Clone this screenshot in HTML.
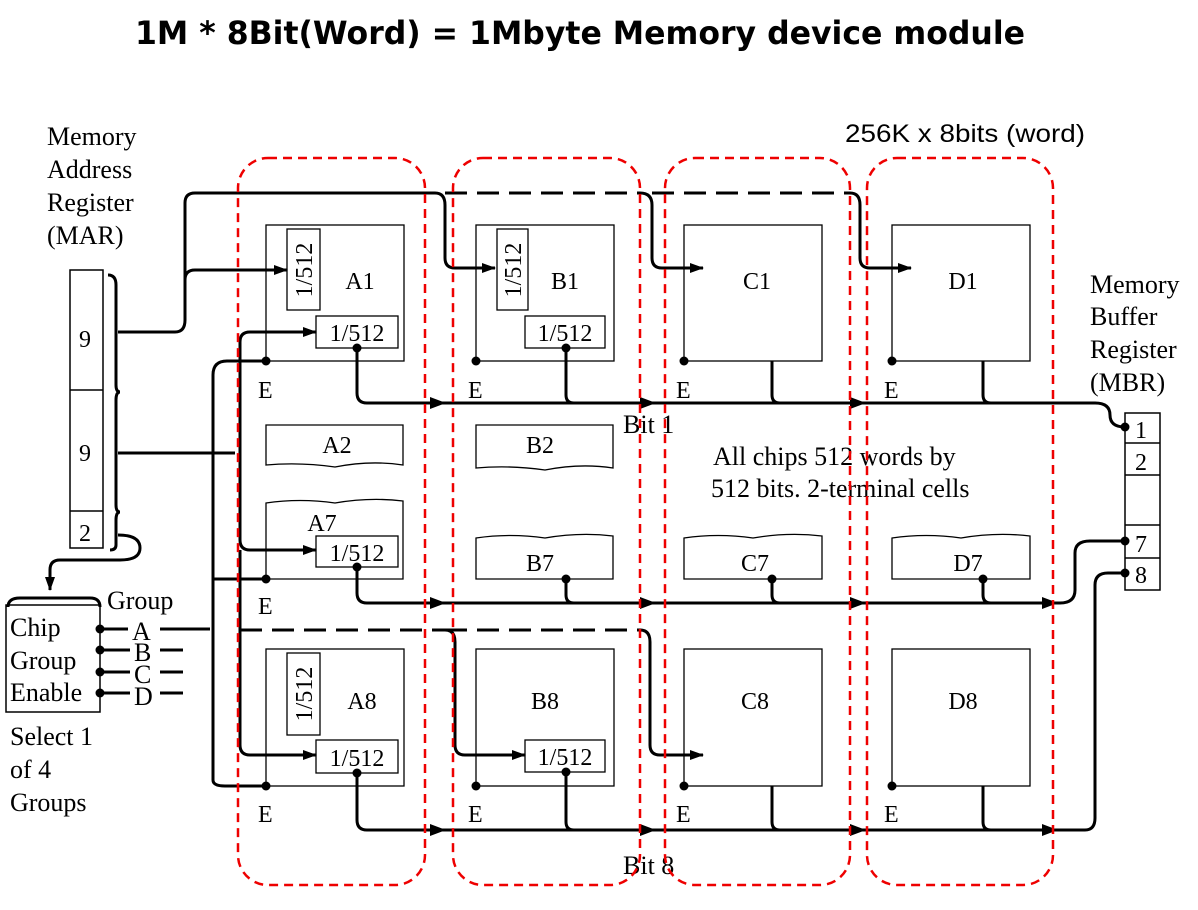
<!DOCTYPE html>
<html><head><meta charset="utf-8"><style>
body{margin:0;background:#fff}
svg{display:block}
.s{font-family:"Liberation Serif",serif;fill:#000}
</style></head><body>
<svg width="1198" height="910" viewBox="0 0 1198 910" xmlns="http://www.w3.org/2000/svg">
<defs>
<marker id="ar" markerWidth="14" markerHeight="10" refX="13" refY="5" orient="auto" markerUnits="userSpaceOnUse">
<path d="M0,0 L14,5 L0,10 Z" fill="#000"/></marker>
</defs>
<text x="135" y="44" textLength="890" lengthAdjust="spacingAndGlyphs" font-family="DejaVu Sans,Liberation Sans,sans-serif" font-weight="bold" font-size="32">1M * 8Bit(Word) = 1Mbyte Memory device module</text>
<text x="845" y="142" textLength="240" lengthAdjust="spacingAndGlyphs" font-family="Liberation Sans,sans-serif" font-size="25">256K x 8bits (word)</text>

<g class="s" font-size="26">
<text x="47" y="145">Memory</text><text x="47" y="178">Address</text><text x="47" y="211">Register</text><text x="47" y="244">(MAR)</text>
<text x="1090" y="293">Memory</text><text x="1090" y="325">Buffer</text><text x="1090" y="358">Register</text><text x="1090" y="391">(MBR)</text>
<text x="10" y="636">Chip</text><text x="10" y="669">Group</text><text x="10" y="701">Enable</text>
<text x="107" y="609">Group</text>
<text x="10" y="745">Select 1</text><text x="10" y="778">of 4</text><text x="10" y="811">Groups</text>
<text x="132" y="640">A</text><text x="134" y="661">B</text><text x="134" y="683">C</text><text x="134" y="705">D</text>
<text x="623" y="433">Bit 1</text><text x="623" y="874">Bit 8</text>
<text x="713" y="465">All chips 512 words by</text><text x="711" y="497">512 bits. 2-terminal cells</text>
</g>

<g fill="none" stroke="#000" stroke-width="1.5">
<rect x="70" y="270" width="33" height="278"/><line x1="70" y1="390" x2="103" y2="390"/><line x1="70" y1="511" x2="103" y2="511"/>
<rect x="6" y="605" width="94" height="107"/>
<rect x="1125" y="413" width="35" height="177"/>
<line x1="1125" y1="443" x2="1160" y2="443"/><line x1="1125" y1="475" x2="1160" y2="475"/><line x1="1125" y1="525" x2="1160" y2="525"/><line x1="1125" y1="558" x2="1160" y2="558"/>
</g>
<g class="s" font-size="24"><text x="79" y="347">9</text><text x="79" y="461">9</text><text x="79" y="541">2</text>
<text x="1135" y="438">1</text><text x="1135" y="470">2</text><text x="1135" y="552">7</text><text x="1135" y="583">8</text></g>

<g fill="none" stroke="#000" stroke-width="1.3">
<rect x="266" y="225" width="138" height="136"/><rect x="476" y="225" width="138" height="136"/>
<rect x="684" y="225" width="138" height="136"/><rect x="892" y="225" width="138" height="136"/>
<rect x="266" y="649" width="138" height="137"/><rect x="476" y="649" width="138" height="137"/>
<rect x="684" y="649" width="138" height="137"/><rect x="892" y="649" width="138" height="137"/>
<path d="M266,425 H403 V465 Q370,460 335,467 Q300,462 266,465 Z"/>
<path d="M476,425 H613 V468 Q580,463 545,470 Q510,465 476,468 Z"/>
<path d="M266,503 Q300,498 335,503 Q370,497 403,501 V579 H266 Z"/>
<path d="M476,538 Q510,533 545,538 Q580,532 613,536 V579 H476 Z"/>
<path d="M684,538 Q718,533 753,538 Q788,532 822,536 V579 H684 Z"/>
<path d="M892,538 Q926,533 961,538 Q996,532 1030,536 V579 H892 Z"/>
<rect x="287" y="229" width="33" height="81"/><rect x="497" y="229" width="31" height="81"/>
<rect x="287" y="653" width="33" height="82"/>
<rect x="316" y="316" width="82" height="32"/><rect x="525" y="316" width="80" height="32"/>
<rect x="316" y="536" width="82" height="31"/><rect x="316" y="740" width="82" height="33"/><rect x="525" y="740" width="80" height="32"/>
</g>
<g class="s" font-size="24">
<text x="360" y="289" text-anchor="middle">A1</text><text x="565" y="289" text-anchor="middle">B1</text><text x="757" y="289" text-anchor="middle">C1</text><text x="963" y="289" text-anchor="middle">D1</text>
<text x="337" y="453" text-anchor="middle">A2</text><text x="540" y="453" text-anchor="middle">B2</text>
<text x="322" y="531" text-anchor="middle">A7</text><text x="540" y="571" text-anchor="middle">B7</text><text x="755" y="571" text-anchor="middle">C7</text><text x="968" y="571" text-anchor="middle">D7</text>
<text x="362" y="709" text-anchor="middle">A8</text><text x="545" y="709" text-anchor="middle">B8</text><text x="755" y="709" text-anchor="middle">C8</text><text x="963" y="709" text-anchor="middle">D8</text>
<text x="357" y="341" text-anchor="middle">1/512</text><text x="565" y="341" text-anchor="middle">1/512</text>
<text x="357" y="561" text-anchor="middle">1/512</text><text x="357" y="766" text-anchor="middle">1/512</text><text x="565" y="765" text-anchor="middle">1/512</text>
<text transform="translate(312,270) rotate(-90)" text-anchor="middle">1/512</text>
<text transform="translate(521,270) rotate(-90)" text-anchor="middle">1/512</text>
<text transform="translate(312,694) rotate(-90)" text-anchor="middle">1/512</text>
<text x="258" y="398">E</text><text x="468" y="398">E</text><text x="676" y="398">E</text><text x="884" y="398">E</text>
<text x="258" y="614">E</text>
<text x="258" y="822">E</text><text x="468" y="822">E</text><text x="676" y="822">E</text><text x="884" y="822">E</text>
</g>

<g fill="none" stroke="#000" stroke-width="3">
<path d="M118,332 H175 Q185,332 185,320 V203 Q185,193 195,193 H435 Q445,193 445,205 V258 Q445,268 455,268 H495" marker-end="url(#ar)"/>
<path d="M185,280 Q185,270 195,270 H287" marker-end="url(#ar)"/>
<path d="M445,193 H640" stroke-dasharray="22,10"/>
<path d="M640,193 Q652,193 652,205 V258 Q652,268 662,268 H703" marker-end="url(#ar)"/>
<path d="M652,193 H850" stroke-dasharray="22,10"/>
<path d="M850,193 Q860,193 860,205 V258 Q860,268 870,268 H911" marker-end="url(#ar)"/>
<path d="M108,275 Q116,275 116,285 V385 Q116,392 120,392 Q116,392 116,400 V505 Q116,512 120,512 Q116,512 116,520 V545 Q116,550 110,550"/>
<path d="M118,453 H235"/>
<path d="M118,535 Q140,535 140,548 Q140,560 120,560 H60 Q50,560 50,570 V590" marker-end="url(#ar)"/>
<path d="M8,607 Q8,598 20,598 H90 Q100,598 100,607"/>
<path d="M213,780 V375 Q213,361 227,361 H266"/>
<path d="M213,579 H266"/>
<path d="M213,780 Q213,786 225,786 H266"/>
<path d="M160,629 H210"/>
<path d="M100,629 H128 M100,650 H130 M160,650 H183 M100,672 H130 M160,672 H183 M100,693 H130 M160,693 H183"/>
<path d="M240,342 Q240,332 250,332 H316" marker-end="url(#ar)"/>
<path d="M240,342 V540 Q240,550 250,550 H316" marker-end="url(#ar)"/>
<path d="M240,550 V745 Q240,755 250,755 H316" marker-end="url(#ar)"/>
<path d="M240,630 H445 M445,630 H640" stroke-dasharray="22,10"/>
<path d="M445,630 Q455,630 455,642 V745 Q455,755 465,755 H525" marker-end="url(#ar)"/>
<path d="M640,630 Q650,630 650,642 V745 Q650,755 660,755 H703" marker-end="url(#ar)"/>
<path d="M357,348 V393 Q357,403 367,403 H1095 Q1110,403 1110,415 Q1110,427 1125,427"/>
<path d="M566,348 V395 Q566,403 574,403 M772,361 V395 Q772,403 780,403 M983,361 V395 Q983,403 991,403"/>
<path d="M357,567 V593 Q357,603 367,603 H1060 Q1075,603 1075,590 V553 Q1075,541 1090,541 H1125"/>
<path d="M566,579 V595 Q566,603 574,603 M772,579 V595 Q772,603 780,603 M983,579 V595 Q983,603 991,603"/>
<path d="M357,773 V820 Q357,830 367,830 H1085 Q1095,830 1095,818 V585 Q1095,573 1108,573 H1125"/>
<path d="M566,772 V822 Q566,830 574,830 M772,786 V822 Q772,830 780,830 M983,786 V822 Q983,830 991,830"/>
</g>
<g fill="#000">
<path d="M430,397 L446,403 L430,409Z"/><path d="M640,397 L656,403 L640,409Z"/><path d="M850,397 L866,403 L850,409Z"/>
<path d="M430,597 L446,603 L430,609Z"/><path d="M640,597 L656,603 L640,609Z"/><path d="M850,597 L866,603 L850,609Z"/><path d="M1042,597 L1058,603 L1042,609Z"/>
<path d="M430,824 L446,830 L430,836Z"/><path d="M640,824 L656,830 L640,836Z"/><path d="M850,824 L866,830 L850,836Z"/><path d="M1042,824 L1058,830 L1042,836Z"/>
<circle cx="266" cy="361" r="4.5"/><circle cx="476" cy="361" r="4.5"/><circle cx="684" cy="361" r="4.5"/><circle cx="892" cy="361" r="4.5"/>
<circle cx="266" cy="579" r="4.5"/><circle cx="266" cy="786" r="4.5"/><circle cx="476" cy="786" r="4.5"/><circle cx="684" cy="786" r="4.5"/><circle cx="892" cy="786" r="4.5"/>
<circle cx="357" cy="348" r="4.5"/><circle cx="566" cy="348" r="4.5"/><circle cx="357" cy="567" r="4.5"/><circle cx="566" cy="579" r="4.5"/><circle cx="772" cy="579" r="4.5"/><circle cx="983" cy="579" r="4.5"/>
<circle cx="357" cy="773" r="4.5"/><circle cx="566" cy="772" r="4.5"/>
<circle cx="1125" cy="427" r="4.5"/><circle cx="1125" cy="541" r="4.5"/><circle cx="1125" cy="573" r="4.5"/>
<circle cx="100" cy="629" r="4.5"/><circle cx="100" cy="650" r="4.5"/><circle cx="100" cy="672" r="4.5"/><circle cx="100" cy="693" r="4.5"/>
</g>
<g fill="none" stroke="#e00" stroke-width="2.5" stroke-dasharray="9,6">
<rect x="238" y="158" width="187" height="727" rx="30"/>
<rect x="453" y="158" width="187" height="727" rx="30"/>
<rect x="665" y="158" width="185" height="727" rx="30"/>
<rect x="867" y="158" width="186" height="727" rx="30"/>
</g>
</svg>
</body></html>
